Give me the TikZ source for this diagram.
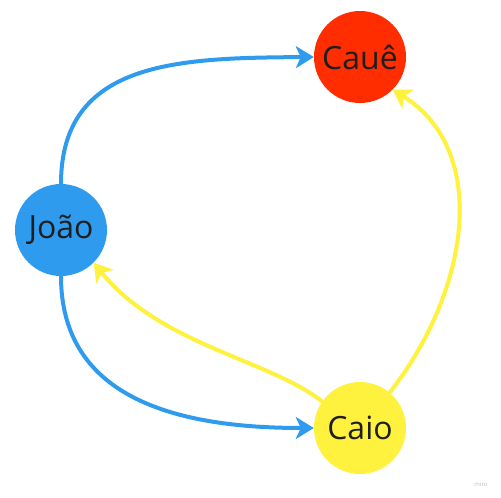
\documentclass[tikz,border=0pt]{standalone}
\usepackage{fontspec}
\setmainfont{Open Sans}
\usetikzlibrary{arrows.meta}
\definecolor{JoaoBlue}{HTML}{2E9BEF}
\definecolor{CaueRed}{HTML}{FF2D00}
\definecolor{CaioYellow}{HTML}{FFF23F}
\definecolor{LabelText}{HTML}{1E1E1E}
\tikzset{
    person/.style={circle, minimum size=92pt, inner sep=0pt, font=\fontsize{32}{36}\selectfont, text=LabelText},
    bluearr/.style={-{Stealth[length=18pt, width=22pt, inset=5pt]}, line width=4pt, draw=JoaoBlue, line cap=round},
    yellowarr/.style={-{Stealth[length=18pt, width=22pt, inset=5pt]}, line width=4pt, draw=CaioYellow, line cap=round}
}

\begin{document}
\begin{tikzpicture}[x=1pt, y=-1pt]
    \useasboundingbox (0,0) rectangle (501,498);

    % People
    \node[person, fill=CaueRed] (caue) at (360,57) {Cauê};
    \node[person, fill=JoaoBlue] (joao) at (61,230) {João};
    \node[person, fill=CaioYellow] (caio) at (360,428) {Caio};

    % Blue links from João
    \draw[bluearr] (joao.north) .. controls (61,60) and (180,58) .. (caue.west);
    \draw[bluearr] (joao.south) .. controls (61,400) and (180,428) .. (caio.west);

    % Yellow links from Caio
    \draw[yellowarr] (caio.145) .. controls (270,360) and (160,345) .. (joao.-45);
    \draw[yellowarr] (caio.50) .. controls (470,290) and (490,150) .. (caue.-45);

    \node[text=black!25, font=\fontsize{6}{7}\selectfont] (miro) at (481,484) {miro};
\end{tikzpicture}
\end{document}
